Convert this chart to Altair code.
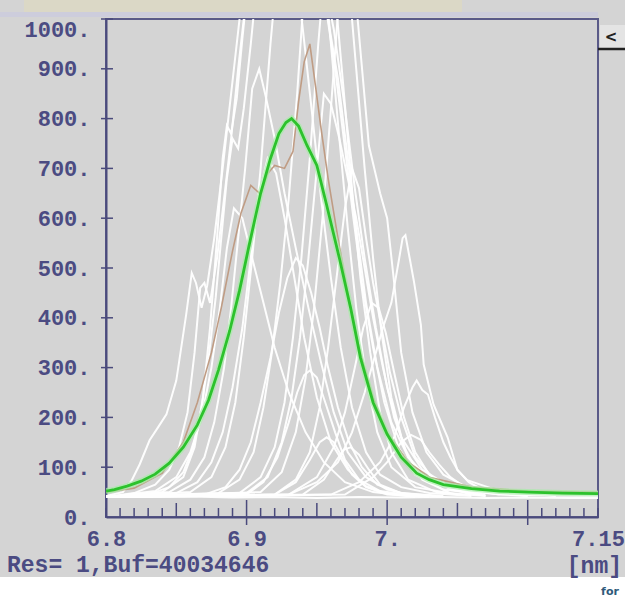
import altair as alt
import pandas as pd

# ---------------- data ----------------
X_TICK_VALUES = [6.8, 6.9, 7.0, 7.15]
X_TICK_LABELS = ["6.8", "6.9", "7.", "7.15"]
Y_TICK_VALUES = [0, 100, 200, 300, 400, 500, 600, 700, 800, 900, 1000]

GREEN_X = [6.800, 6.806, 6.815, 6.825, 6.835, 6.845, 6.855, 6.865, 6.873, 6.880, 6.888,
           6.895, 6.902, 6.910, 6.917, 6.923, 6.928, 6.932, 6.937, 6.943, 6.950, 6.957,
           6.966, 6.974, 6.981, 6.990, 7.000, 7.010, 7.021, 7.030, 7.040, 7.060, 7.080,
           7.100, 7.125, 7.150]
GREEN_Y = [52, 55, 62, 72, 86, 108, 140, 185, 235, 295, 374, 455, 548, 650, 720, 770,
           792, 800, 785, 746, 706, 626, 520, 420, 320, 230, 166, 120, 88, 75, 65, 57,
           52, 50, 48, 47]

BROWN_X = [6.800, 6.820, 6.840, 6.855, 6.865, 6.875, 6.882, 6.890, 6.896, 6.903, 6.910,
           6.915, 6.920, 6.927, 6.933, 6.937, 6.941, 6.945, 6.949, 6.953, 6.958, 6.965,
           6.972, 6.980, 6.990, 7.000, 7.015, 7.030, 7.060, 7.100, 7.150]
BROWN_Y = [50, 58, 88, 150, 230, 330, 420, 534, 610, 666, 648, 690, 706, 700, 734, 834,
           914, 950, 866, 780, 680, 560, 450, 340, 240, 170, 110, 80, 60, 52, 50]

W0_X = [6.80, 6.83, 6.86, 6.89, 6.92, 6.95, 6.98, 7.01, 7.04, 7.07, 7.10, 7.13, 7.15]
W0_Y = [42, 40, 41, 39, 40, 38, 40, 39, 40, 38, 39, 38, 38]

W1_X = [6.800, 6.812, 6.818, 6.824, 6.831, 6.837, 6.843, 6.850, 6.857, 6.861, 6.864,
        6.868, 6.872, 6.877, 6.883, 6.889, 6.895, 6.905, 6.920, 6.940, 6.955, 6.965,
        6.972, 6.978, 6.985, 6.993, 7.003, 7.015, 7.030, 7.050, 7.080, 7.150]
W1_Y = [42, 50, 72, 106, 154, 180, 206, 274, 406, 490, 470, 420, 465, 560, 700, 850,
        1000, 1150, 1250, 1200, 1050, 880, 720, 580, 430, 300, 190, 120, 75, 55, 45, 42]

W2_X = [6.800, 6.820, 6.835, 6.845, 6.852, 6.858, 6.863, 6.867, 6.870, 6.874, 6.879,
        6.884, 6.889, 6.894, 6.900, 6.910, 6.930, 6.950, 6.962, 6.970, 6.977, 6.984,
        6.992, 7.000, 7.010, 7.025, 7.045, 7.080]
W2_Y = [40, 48, 65, 95, 140, 210, 330, 460, 470, 430, 520, 640, 760, 900, 1050, 1200,
        1300, 1150, 980, 820, 660, 520, 380, 260, 160, 95, 60, 45]

W3_X = [6.800, 6.830, 6.845, 6.855, 6.862, 6.868, 6.873, 6.878, 6.882, 6.886, 6.890,
        6.894, 6.898, 6.903, 6.910, 6.930, 6.955, 6.970, 6.979, 6.987, 6.995, 7.000,
        7.005, 7.010, 7.018, 7.028, 7.040, 7.060, 7.100]
W3_Y = [40, 45, 60, 90, 140, 220, 320, 440, 560, 680, 760, 740, 820, 950, 1150, 1400,
        1250, 1100, 1000, 746, 650, 600, 470, 330, 210, 130, 85, 55, 45]

W4_X = [6.800, 6.840, 6.855, 6.863, 6.869, 6.874, 6.879, 6.883, 6.886, 6.889, 6.893,
        6.897, 6.902, 6.910, 6.935, 6.955, 6.963, 6.970, 6.976, 6.982, 6.990, 6.998,
        7.008, 7.020, 7.040, 7.070]
W4_Y = [40, 50, 80, 140, 240, 380, 560, 720, 786, 770, 840, 960, 1100, 1250, 1300, 1050,
        900, 740, 600, 470, 340, 230, 140, 85, 55, 45]

W5_X = [6.800, 6.860, 6.875, 6.885, 6.892, 6.898, 6.904, 6.910, 6.917, 6.925, 6.933,
        6.940, 6.947, 6.953, 6.960, 6.967, 6.975, 6.985, 6.995, 7.010, 7.030, 7.060]
W5_Y = [40, 50, 80, 140, 230, 360, 520, 700, 950, 1200, 1150, 980, 800, 640, 480, 340,
        220, 130, 85, 60, 48, 42]

W6_X = [6.800, 6.880, 6.895, 6.905, 6.912, 6.918, 6.924, 6.930, 6.936, 6.942, 6.948,
        6.954, 6.960, 6.966, 6.972, 6.978, 6.985, 6.993, 7.003, 7.020, 7.050]
W6_Y = [40, 48, 75, 130, 220, 330, 470, 640, 850, 1100, 1250, 1150, 950, 760, 580, 420,
        280, 170, 100, 60, 45]

W7_X = [6.800, 6.895, 6.910, 6.920, 6.927, 6.933, 6.939, 6.945, 6.951, 6.957, 6.963,
        6.969, 6.975, 6.981, 6.988, 6.995, 7.003, 7.015, 7.035, 7.070]
W7_Y = [40, 48, 80, 140, 230, 360, 520, 720, 950, 1150, 1050, 860, 660, 480, 330, 210,
        130, 75, 50, 42]

W8_X = [6.800, 6.910, 6.925, 6.935, 6.942, 6.948, 6.954, 6.960, 6.966, 6.972, 6.978,
        6.984, 6.990, 6.996, 7.003, 7.012, 7.025, 7.045]
W8_Y = [40, 50, 90, 170, 280, 420, 600, 820, 1050, 1100, 900, 700, 520, 370, 240, 140,
        75, 48]

W9_X = [6.800, 6.870, 6.885, 6.895, 6.903, 6.910, 6.917, 6.923, 6.929, 6.935, 6.940,
        6.946, 6.952, 6.958, 6.965, 6.973, 6.982, 6.993, 7.010, 7.040]
W9_Y = [40, 45, 60, 95, 150, 230, 320, 410, 480, 520, 505, 450, 380, 300, 220, 150, 100,
        65, 48, 42]

W10_X = [6.800, 6.900, 6.912, 6.922, 6.930, 6.936, 6.941, 6.945, 6.950, 6.956, 6.963,
         6.970, 6.980, 6.995, 7.020]
W10_Y = [40, 45, 70, 120, 190, 250, 285, 294, 280, 230, 170, 115, 75, 52, 42]

W11_X = [6.800, 6.920, 6.935, 6.945, 6.952, 6.957, 6.962, 6.968, 6.975, 6.985, 7.000, 7.030]
W11_Y = [40, 45, 70, 115, 150, 160, 150, 120, 85, 60, 45, 40]

W12_X = [6.800, 6.940, 6.955, 6.963, 6.969, 6.974, 6.980, 6.987, 6.995, 7.010, 7.040]
W12_Y = [40, 45, 75, 110, 135, 140, 125, 95, 65, 48, 40]

W13_X = [6.800, 6.850, 6.865, 6.875, 6.883, 6.890, 6.897, 6.903, 6.909, 6.915, 6.921,
         6.927, 6.934, 6.941, 6.950, 6.960, 6.972, 6.985, 7.000, 7.030]
W13_Y = [40, 48, 70, 110, 170, 260, 380, 520, 650, 720, 690, 600, 480, 360, 240, 150, 95,
         62, 47, 40]

W14_X = [6.800, 6.930, 6.950, 6.965, 6.975, 6.984, 6.991, 6.997, 7.003, 7.008, 7.011,
         7.013, 7.016, 7.019, 7.024, 7.026, 7.033, 7.043, 7.050, 7.057, 7.080, 7.120]
W14_Y = [40, 45, 70, 110, 170, 250, 320, 380, 430, 510, 560, 566, 520, 474, 386, 306,
         226, 160, 94, 74, 52, 42]

W15_X = [6.800, 6.960, 6.980, 6.995, 7.005, 7.012, 7.018, 7.021, 7.025, 7.029, 7.034,
         7.040, 7.045, 7.050, 7.058, 7.070, 7.100]
W15_Y = [40, 45, 70, 110, 160, 220, 260, 274, 255, 246, 200, 150, 120, 95, 70, 52, 42]

W16_X = [6.800, 6.970, 6.990, 7.000, 7.010, 7.017, 7.024, 7.030, 7.037, 7.045, 7.055,
         7.070, 7.100]
W16_Y = [40, 45, 80, 110, 150, 165, 155, 130, 105, 80, 60, 48, 42]

W17_X = [6.800, 6.930, 6.950, 6.962, 6.970, 6.977, 6.983, 6.989, 6.994, 6.999, 7.005,
         7.012, 7.020, 7.030, 7.045, 7.070]
W17_Y = [40, 45, 80, 140, 210, 300, 380, 430, 420, 370, 290, 200, 130, 85, 55, 42]

W18_X = [6.800, 6.845, 6.860, 6.870, 6.877, 6.884, 6.889, 6.894, 6.899, 6.904, 6.909,
         6.914, 6.920, 6.927, 6.935, 6.944, 6.953, 6.962, 6.972, 6.985, 7.000, 7.020]
W18_Y = [40, 50, 75, 120, 190, 300, 420, 560, 700, 860, 900, 840, 760, 650, 540, 420,
         310, 210, 130, 80, 55, 42]

W19_X = [6.800, 6.900, 6.915, 6.925, 6.932, 6.938, 6.944, 6.950, 6.955, 6.960, 6.966,
         6.972, 6.978, 6.984, 6.990, 6.997, 7.005, 7.015, 7.030, 7.060]
W19_Y = [40, 48, 80, 150, 240, 360, 520, 700, 850, 830, 760, 680, 600, 500, 400, 300,
         200, 120, 70, 45]

W20_X = [6.800, 6.920, 6.935, 6.945, 6.952, 6.958, 6.964, 6.970, 6.975, 6.980, 6.985,
         6.990, 6.996, 7.002, 7.010, 7.020, 7.035, 7.060]
W20_Y = [40, 45, 75, 130, 220, 340, 480, 620, 700, 660, 560, 470, 380, 290, 200, 120,
         70, 45]

W21_X = [6.800, 6.835, 6.850, 6.860, 6.868, 6.875, 6.881, 6.886, 6.891, 6.897, 6.904,
         6.912, 6.920, 6.930, 6.942, 6.955, 6.970, 6.990, 7.020]
W21_Y = [40, 52, 80, 130, 200, 300, 420, 540, 620, 600, 520, 430, 340, 250, 170, 110,
         70, 50, 40]

WHITE = [("w0", W0_X, W0_Y), ("w1", W1_X, W1_Y), ("w2", W2_X, W2_Y), ("w3", W3_X, W3_Y),
         ("w4", W4_X, W4_Y), ("w5", W5_X, W5_Y), ("w6", W6_X, W6_Y), ("w7", W7_X, W7_Y),
         ("w8", W8_X, W8_Y), ("w9", W9_X, W9_Y), ("w10", W10_X, W10_Y),
         ("w11", W11_X, W11_Y), ("w12", W12_X, W12_Y), ("w13", W13_X, W13_Y),
         ("w14", W14_X, W14_Y), ("w15", W15_X, W15_Y), ("w16", W16_X, W16_Y),
         ("w17", W17_X, W17_Y), ("w18", W18_X, W18_Y), ("w19", W19_X, W19_Y),
         ("w20", W20_X, W20_Y), ("w21", W21_X, W21_Y)]

# ---------------- styling ----------------
AXIS_COLOR = "#4a4a7c"
LABEL_COLOR = "#4b4b82"
BG = "#d4d4d4"
FONT = "Liberation Mono"
W, H = 492, 498
PAD = {"left": 106, "top": 19, "right": 27, "bottom": 83}

white_rows = []
for name, xs, ys in WHITE:
    for i, (xv, yv) in enumerate(zip(xs, ys)):
        white_rows.append({"x": xv, "y": yv, "s": name, "o": i})
df_white = pd.DataFrame(white_rows)
df_green = pd.DataFrame({"x": GREEN_X, "y": GREEN_Y, "o": range(len(GREEN_X))})
df_brown = pd.DataFrame({"x": BROWN_X, "y": BROWN_Y, "o": range(len(BROWN_X))})

label_expr_x = "''"
for v, lab in reversed(list(zip(X_TICK_VALUES, X_TICK_LABELS))):
    label_expr_x = f"abs(datum.value - {v}) < 1e-6 ? '{lab}' : ({label_expr_x})"

xscale = alt.Scale(domain=[6.8, 7.15], nice=False, zero=False)
yscale = alt.Scale(domain=[0, 1000], nice=False)

x_axis = alt.Axis(values=X_TICK_VALUES, labelExpr=label_expr_x, title=None, ticks=False,
                  grid=False, domainColor=AXIS_COLOR, domainWidth=2, labelFont=FONT,
                  labelFontSize=22, labelFontWeight="bold", labelColor=LABEL_COLOR,
                  labelPadding=28, labelBaseline="alphabetic", labelAlign="center",
                  labelOverlap=False, labelFlush=False, labelBound=False)
y_axis = alt.Axis(values=Y_TICK_VALUES, format="d", labelExpr="datum.label + '.'",
                  title=None, ticks=False, grid=False, domainColor=AXIS_COLOR,
                  domainWidth=2, labelFont=FONT, labelFontSize=22, labelFontWeight="bold",
                  labelColor=LABEL_COLOR, labelPadding=16, labelOverlap=False,
                  labelFlush=False, labelBound=False,
                  labelBaseline={"condition": {"test": "datum.value == 1000",
                                               "value": "top"},
                                 "value": "middle"})

white = alt.Chart(df_white).mark_line(color="white", strokeWidth=2.0, clip=True,
                                      opacity=0.95).encode(
    x=alt.X("x:Q", scale=xscale, axis=x_axis),
    y=alt.Y("y:Q", scale=yscale, axis=y_axis),
    detail="s:N", order="o:Q")

brown = alt.Chart(df_brown).mark_line(color="#bf9c84", strokeWidth=1.6, clip=True).encode(
    x=alt.X("x:Q", scale=xscale), y=alt.Y("y:Q", scale=yscale), order="o:Q")

green_halo = alt.Chart(df_green).mark_line(color="#a6eca6", strokeWidth=6, opacity=0.7,
                                           clip=True).encode(
    x=alt.X("x:Q", scale=xscale), y=alt.Y("y:Q", scale=yscale), order="o:Q")
green = alt.Chart(df_green).mark_line(color="#2cc22c", strokeWidth=2.8, clip=True).encode(
    x=alt.X("x:Q", scale=xscale), y=alt.Y("y:Q", scale=yscale), order="o:Q")

# tick marks (axis decoration)
minor = [round(6.8 + i * 0.01, 2) for i in range(36)]
medium = [6.85, 6.95, 7.05]
major = [6.9, 7.0, 7.1]
minor = [t for t in minor if t not in medium and t not in major]

tick_minor = alt.Chart(pd.DataFrame({"t": minor})).mark_rule(
    color=AXIS_COLOR, strokeWidth=1.5).encode(
    x=alt.X("t:Q", scale=xscale), y=alt.value(H - 9), y2=alt.value(H))
tick_medium = alt.Chart(pd.DataFrame({"t": medium})).mark_rule(
    color=AXIS_COLOR, strokeWidth=1.5).encode(
    x=alt.X("t:Q", scale=xscale), y=alt.value(H - 14), y2=alt.value(H))
tick_major = alt.Chart(pd.DataFrame({"t": major})).mark_rule(
    color=AXIS_COLOR, strokeWidth=1.5).encode(
    x=alt.X("t:Q", scale=xscale), y=alt.value(H - 17), y2=alt.value(H + 8))
tick_y = alt.Chart(pd.DataFrame({"t": Y_TICK_VALUES[1:]})).mark_rule(
    color=AXIS_COLOR, strokeWidth=1.5).encode(
    y=alt.Y("t:Q", scale=yscale), x=alt.value(-5), x2=alt.value(7))

one = pd.DataFrame({"a": [0]})
white_bottom = alt.Chart(one).mark_rect(color="white", clip=False).encode(
    x=alt.value(-106), x2=alt.value(W + 27), y=alt.value(558), y2=alt.value(H + 83))
top_strip = alt.Chart(one).mark_rect(color="#dbd8c6", clip=False).encode(
    x=alt.value(-82), x2=alt.value(356), y=alt.value(-19), y2=alt.value(-7))
top_strip2 = alt.Chart(one).mark_rect(color="#cdcddc", clip=False).encode(
    x=alt.value(-106), x2=alt.value(W), y=alt.value(-7), y2=alt.value(-2))
button = alt.Chart(one).mark_rect(color="#e4e4e4", clip=False).encode(
    x=alt.value(W + 2), x2=alt.value(W + 27), y=alt.value(6), y2=alt.value(29))
button_line = alt.Chart(one).mark_rule(color="#222222", strokeWidth=2.5).encode(
    x=alt.value(W), x2=alt.value(W + 27), y=alt.value(30))
button_txt = alt.Chart(one).mark_text(text="<", font="DejaVu Sans", fontWeight="bold",
                                      fontSize=15, color="#222222").encode(
    x=alt.value(W + 13), y=alt.value(18))

res_txt = alt.Chart(one).mark_text(text="Res= 1,Buf=40034646", font=FONT,
                                   fontWeight="bold", fontSize=23, color=LABEL_COLOR,
                                   align="left", baseline="alphabetic").encode(
    x=alt.value(-99), y=alt.value(553))
nm_txt = alt.Chart(one).mark_text(text="[nm]", font=FONT, fontWeight="bold", fontSize=23,
                                  color=LABEL_COLOR, align="right",
                                  baseline="alphabetic").encode(
    x=alt.value(W + 24), y=alt.value(554))
for_txt = alt.Chart(one).mark_text(text="for", font="DejaVu Sans", fontWeight="bold",
                                   fontSize=11, color="#2f5a7a", align="center",
                                   baseline="alphabetic").encode(
    x=alt.value(W + 12), y=alt.value(576))

chart = alt.layer(
    white_bottom, top_strip, top_strip2, button, button_line, button_txt,
    white, brown, green_halo, green,
    tick_minor, tick_medium, tick_major, tick_y,
    res_txt, nm_txt, for_txt,
).properties(
    width=W, height=H, autosize=alt.AutoSizeParams(type="none"), padding=PAD,
    background=BG,
).configure_view(
    fill=BG, stroke="#5a5a88", strokeWidth=2,
)

chart.save("out.html", embed_options={"renderer": "svg", "actions": False})
